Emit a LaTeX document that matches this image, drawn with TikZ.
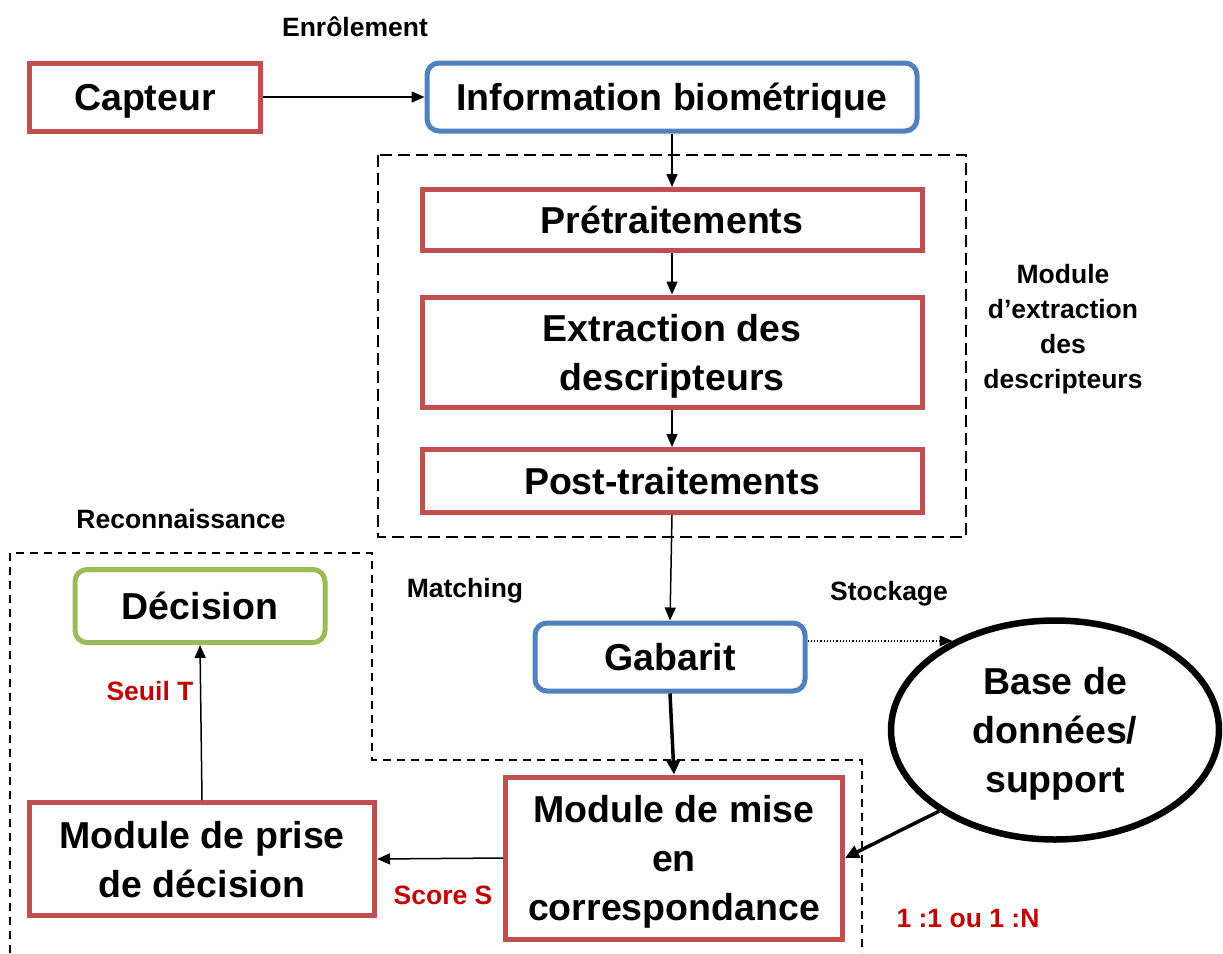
\documentclass[tikz,border=0pt]{standalone}
\usepackage{fontspec}
\setmainfont{Liberation Sans}
\usetikzlibrary{arrows.meta,shapes.geometric}
\definecolor{boxred}{HTML}{C0504D}
\definecolor{boxblue}{HTML}{4F81BD}
\definecolor{boxgreen}{HTML}{9BBB59}
\definecolor{lblred}{HTML}{C00000}
\tikzset{
  big/.style={font=\fontsize{37.5}{49}\selectfont\bfseries, align=center, inner sep=0pt, text depth=0pt},
  small/.style={font=\fontsize{26.5}{35}\selectfont\bfseries, align=center, inner sep=0pt},
  redbox/.style={big, draw=boxred, line width=5pt, rectangle},
  bluebox/.style={big, draw=boxblue, line width=5pt, rectangle, rounded corners=12pt},
  greenbox/.style={big, draw=boxgreen, line width=5pt, rectangle, rounded corners=12pt},
  redlbl/.style={small, text=lblred},
  conn/.style={line width=1.5pt, -{Triangle[length=13pt,width=11pt]}},
  thickconn/.style={line width=3.5pt, -{Triangle[length=14pt,width=13pt]}},
  dotconn/.style={line width=1.2pt, dotted, -{Triangle[length=13pt,width=11pt]}},
  dashbox/.style={line width=1.5pt, dash pattern=on 12pt off 6pt},
  dashreco/.style={line width=1.5pt, dash pattern=on 8pt off 6pt},
}
\begin{document}
\begin{tikzpicture}[x=1pt,y=-1pt]
\useasboundingbox (0,0) rectangle (1223,953);
% dashed regions
\draw[dashbox] (378,155) rectangle (966,537);
\draw[dashreco] (10,953) -- (10,553) -- (372,553) -- (372,760) -- (862,760) -- (862,953);
% nodes
\node[redbox, minimum width=231pt, minimum height=68pt] (cap) at (145,97) {Capteur};
\node[bluebox, minimum width=490pt, minimum height=68pt] (info) at (672,97) {Information biométrique};
\node[redbox, minimum width=500pt, minimum height=61pt] (pre) at (672,220) {Prétraitements};
\node[redbox, minimum width=500pt, minimum height=110pt] (ext) at (672,352) {Extraction des\\descripteurs};
\node[redbox, minimum width=500pt, minimum height=63pt] (post) at (672,481) {Post-traitements};
\node[bluebox, minimum width=270pt, minimum height=68pt] (gab) at (670,657) {Gabarit};
\node[greenbox, minimum width=250pt, minimum height=73pt] (dec) at (200,606) {Décision};
\node[redbox, minimum width=345pt, minimum height=113pt] (prise) at (202,859) {Module de prise\\de décision};
\node[redbox, minimum width=337pt, minimum height=162pt] (mise) at (674,858) {Module de mise\\en\\correspondance};
\node[big, draw, line width=6.5pt, ellipse, minimum width=328pt, minimum height=219pt] (db) at (1055,730) {Base de\\données/\\support};
% labels
\node[small] (enr) at (355,27) {Enrôlement};
\node[small] (modext) at (1063,329) {Module\\d’extraction\\des\\descripteurs};
\node[small] (reco) at (181,519) {Reconnaissance};
\node[small] (match) at (465,591) {Matching};
\node[small] (stock) at (889,594) {Stockage};
\node[redlbl] (seuil) at (150,691) {Seuil T};
\node[redlbl] (score) at (443,895) {Score S};
\node[redlbl] (ratio) at (968,919) {1 :1 ou 1 :N};
% connectors
\draw[conn] (cap.east) -- (info.west);
\draw[conn] (info.south) -- (pre.north);
\draw[conn] (pre.south) -- (ext.north);
\draw[conn] (ext.south) -- (post.north);
\draw[conn] (post.south) -- (gab.north);
\draw[thickconn] (gab.south) -- (mise.north);
\draw[dotconn] (db.139 -| gab.east) -- (db.139);
\draw[thickconn] (db.215) -- (mise.east);
\draw[conn] (mise.west) -- (prise.east);
\draw[conn] (prise.north) -- (dec.south);
\end{tikzpicture}
\end{document}
